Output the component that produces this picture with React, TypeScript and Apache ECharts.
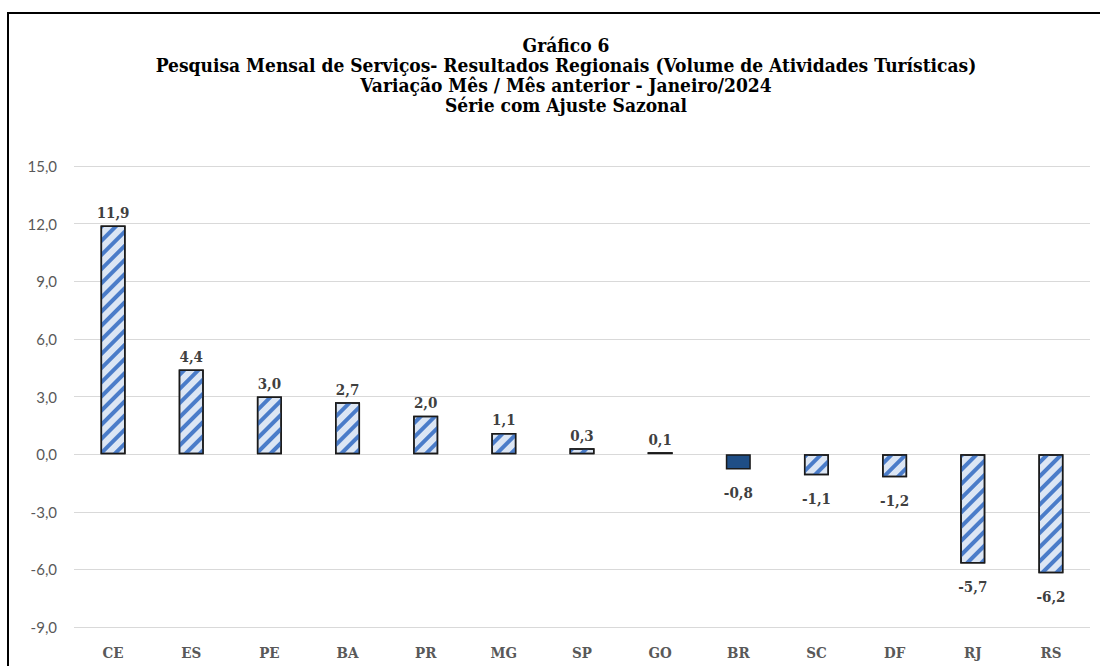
import React, { useEffect, useRef } from "react";
import * as echarts from "echarts";

const categories = ["CE", "ES", "PE", "BA", "PR", "MG", "SP", "GO", "BR", "SC", "DF", "RJ", "RS"];
const values = [11.9, 4.4, 3.0, 2.7, 2.0, 1.1, 0.3, 0.1, -0.8, -1.1, -1.2, -5.7, -6.2];
const highlightCategory = "BR";
const titleLines = [
  "Gráfico 6",
  "Pesquisa Mensal de Serviços- Resultados Regionais (Volume de Atividades Turísticas)",
  "Variação Mês / Mês anterior - Janeiro/2024",
  "Série com Ajuste Sazonal",
];
const yMin = -9;
const yMax = 15;
const yInterval = 3;

const fmt = (v: number) => v.toFixed(1).replace(".", ",");
const SERIF = "DejaVu Serif Condensed";

export default function App() {
  const ref = useRef<HTMLDivElement>(null);
  useEffect(() => {
    if (!ref.current) return;
    const chart = echarts.init(ref.current, null, { renderer: "svg" });
    const stripe = {
      symbol: "rect",
      symbolSize: 1,
      color: "#4a7cc9",
      dashArrayX: [1, 0],
      dashArrayY: [3.5, 6],
      rotation: -Math.PI / 4,
    };
    const data = values.map((v, i) => {
      const isHi = categories[i] === highlightCategory;
      return {
        value: v,
        itemStyle: isHi
          ? { color: "#1f4e86", borderColor: "#1a1a1a", borderWidth: 1.5 }
          : { color: "#dce6f4", borderColor: "#1a1a1a", borderWidth: 1.5, decal: stripe },
        label: { position: v >= 0 ? "top" : "bottom", distance: v >= 0 ? 5 : 16 },
      };
    });
    const titleY = [45, 65, 85, 105];
    chart.setOption({
      animation: false,
      aria: { enabled: false },
      graphic: [
        {
          type: "rect",
          shape: { x: 8, y: 13, width: 1200, height: 700 },
          style: { fill: "none", stroke: "#000", lineWidth: 2 },
          silent: true,
          z: -10,
        },
        ...titleLines.map((t, i) => ({
          type: "text",
          x: 566,
          y: titleY[i],
          silent: true,
          style: {
            text: t,
            fill: "#000",
            font: `bold 19px "${SERIF}"`,
            textAlign: "center",
            textVerticalAlign: "middle",
          },
        })),
      ],
      grid: { left: 74, right: 10, top: 166, bottom: 39 },
      xAxis: {
        type: "category",
        data: categories,
        position: "bottom",
        axisLine: { show: false, onZero: false },
        axisTick: { show: false },
        axisLabel: {
          margin: 18,
          fontFamily: SERIF,
          fontWeight: "bold",
          fontSize: 15,
          color: "#595959",
        },
      },
      yAxis: {
        type: "value",
        min: yMin,
        max: yMax,
        interval: yInterval,
        axisLine: { show: false },
        axisTick: { show: false },
        splitLine: { lineStyle: { color: "#d9d9d9", width: 1 } },
        axisLabel: {
          margin: 17,
          fontFamily: "Lato",
          fontSize: 15,
          color: "#595959",
          formatter: (v: number) => fmt(v),
        },
      },
      series: [
        {
          type: "bar",
          data,
          barWidth: "32%",
          label: {
            show: true,
            fontFamily: SERIF,
            fontWeight: "bold",
            fontSize: 15,
            color: "#404040",
            formatter: (p: any) => fmt(p.value),
          },
        },
      ],
    });
    return () => chart.dispose();
  }, []);
  return (
    <div
      ref={ref}
      style={{ position: "fixed", left: 0, top: 0, width: 1100, height: 666, background: "#fff" }}
    />
  );
}
